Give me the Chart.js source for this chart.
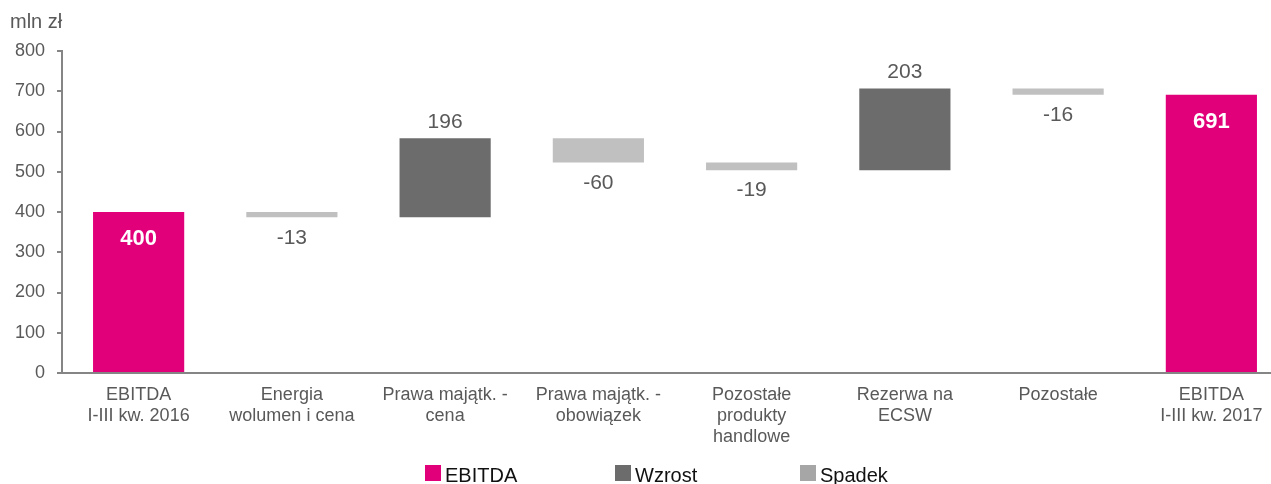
<!DOCTYPE html>
<html>
<head>
<meta charset="utf-8">
<script src="https://cdn.jsdelivr.net/npm/chart.js@4.4.1/dist/chart.umd.min.js"></script>
<style>
  html, body { margin: 0; padding: 0; background: #fff; overflow: hidden; }
  canvas { display: block; }
</style>
</head>
<body>
<canvas id="wf" width="1288" height="484"></canvas>
<script>
// dane wykresu (mln zł)
const categories = [
  ['EBITDA', 'I-III kw. 2016'],
  ['Energia', 'wolumen i cena'],
  ['Prawa majątk. -', 'cena'],
  ['Prawa majątk. -', 'obowiązek'],
  ['Pozostałe', 'produkty', 'handlowe'],
  ['Rezerwa na', 'ECSW'],
  ['Pozostałe'],
  ['EBITDA', 'I-III kw. 2017']
];
const changes = [400, -13, 196, -60, -19, 203, -16, 691];
const kinds = ['total', 'down', 'up', 'down', 'down', 'up', 'down', 'total'];
const yTicks = [0, 100, 200, 300, 400, 500, 600, 700, 800];
const legendNames = ['EBITDA', 'Wzrost', 'Spadek'];

const COLORS = { total: '#E2007A', up: '#6C6C6C', down: '#C0C0C0' };
const LEGEND_COLORS = ['#E2007A', '#6C6C6C', '#A6A6A6'];
const TEXT = '#595959';
const FONT = '"Liberation Sans", Arial, sans-serif';

function buildRanges() {
  const out = [];
  let running = 0;
  changes.forEach((v, i) => {
    if (kinds[i] === 'total') {
      out.push([0, v]);
      running = v;
    } else {
      out.push([running, running + v]);
      running += v;
    }
  });
  return out;
}

const ranges = buildRanges();

const extrasPlugin = {
  id: 'extras',
  afterDatasetsDraw(chart) {
    const ctx = chart.ctx;
    const meta = chart.getDatasetMeta(0);
    ctx.save();
    ctx.textAlign = 'center';
    meta.data.forEach((bar, i) => {
      const top = Math.min(bar.y, bar.base);
      const bottom = Math.max(bar.y, bar.base);
      const txt = String(changes[i]);
      if (kinds[i] === 'total') {
        ctx.font = 'bold 22px ' + FONT;
        ctx.fillStyle = '#ffffff';
        ctx.textBaseline = 'middle';
        ctx.fillText(txt, bar.x, top + 27);
      } else if (kinds[i] === 'up') {
        ctx.font = '21px ' + FONT;
        ctx.fillStyle = TEXT;
        ctx.textBaseline = 'bottom';
        ctx.fillText(txt, bar.x, top - 6);
      } else {
        ctx.font = '21px ' + FONT;
        ctx.fillStyle = TEXT;
        ctx.textBaseline = 'top';
        ctx.fillText(txt, bar.x, bottom + 10);
      }
    });

    // jednostka
    ctx.textAlign = 'left';
    ctx.textBaseline = 'middle';
    ctx.font = '20px ' + FONT;
    ctx.fillStyle = TEXT;
    ctx.fillText('mln zł', 10, 22);

    // legenda
    const legendX = [425, 615, 800];
    ctx.font = '20px ' + FONT;
    ctx.textBaseline = 'middle';
    legendNames.forEach((name, i) => {
      ctx.fillStyle = LEGEND_COLORS[i];
      ctx.fillRect(legendX[i], 465, 16, 16);
      ctx.fillStyle = '#111111';
      ctx.fillText(name, legendX[i] + 20, 476);
    });
    ctx.restore();
  }
};

new Chart(document.getElementById('wf'), {
  type: 'bar',
  data: {
    labels: categories,
    datasets: [{
      data: ranges,
      backgroundColor: kinds.map(k => COLORS[k]),
      borderWidth: 0,
      barPercentage: 0.595,
      categoryPercentage: 1
    }]
  },
  options: {
    responsive: false,
    animation: false,
    layout: { padding: { top: 51, left: 0, right: 0, bottom: 20 } },
    plugins: {
      legend: { display: false },
      tooltip: { enabled: false }
    },
    scales: {
      x: {
        grid: { display: false },
        border: { display: true, color: '#858585', width: 2 },
        ticks: {
          color: TEXT,
          font: { family: FONT, size: 18, lineHeight: 1.15 },
          padding: 4,
          maxRotation: 0,
          autoSkip: false
        },
        afterFit: (scale) => { scale.height = 91; }
      },
      y: {
        min: 0,
        max: 800,
        afterBuildTicks: (scale) => { scale.ticks = yTicks.map(v => ({ value: v })); },
        grid: { drawOnChartArea: false, drawTicks: true, tickLength: 5, color: '#858585', lineWidth: 2 },
        border: { display: true, color: '#858585', width: 2 },
        ticks: {
          color: TEXT,
          font: { family: FONT, size: 18 },
          padding: 12
        },
        afterFit: (scale) => { scale.width = 62; }
      }
    }
  },
  plugins: [extrasPlugin]
});
</script>
</body>
</html>
